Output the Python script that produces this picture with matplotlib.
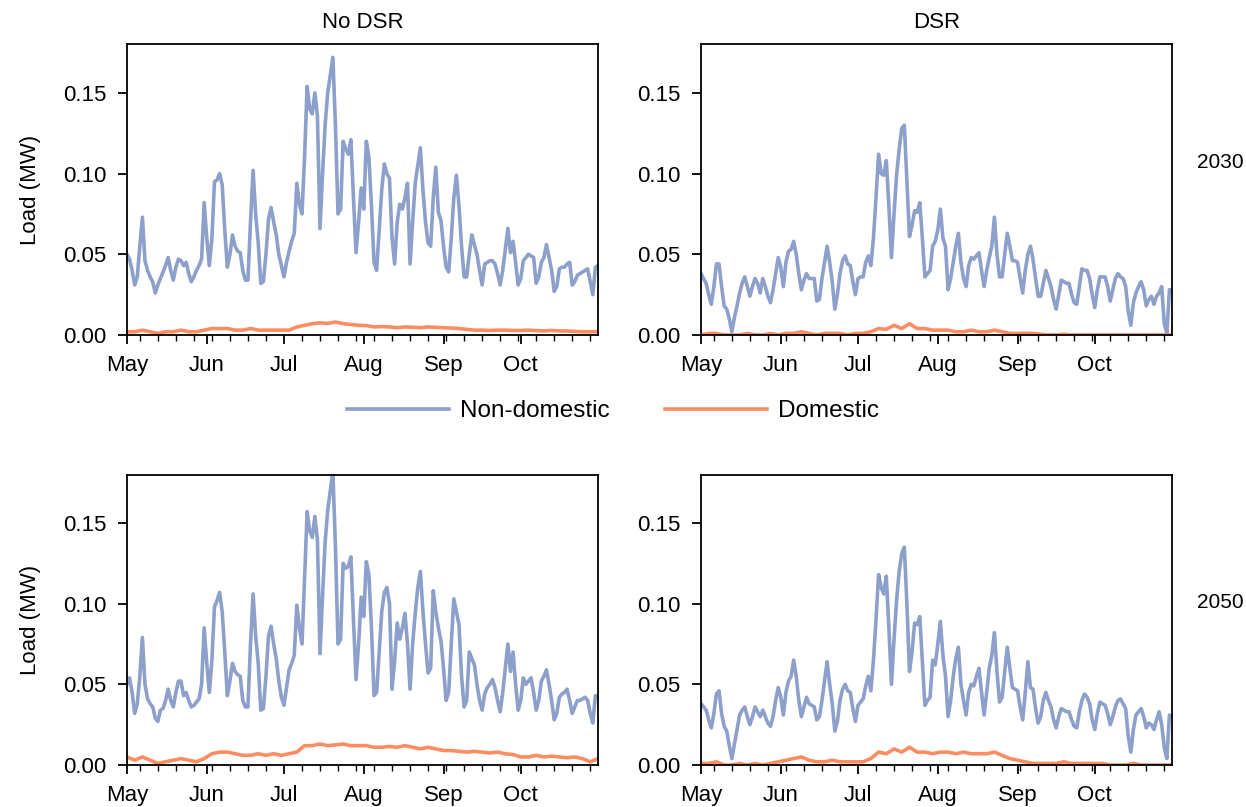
import numpy as np
import pandas as pd
import matplotlib
matplotlib.use('Agg')
import matplotlib.pyplot as plt
import matplotlib.dates as mdates

plt.rcParams['font.family'] = ['Liberation Sans', 'DejaVu Sans']

# daily non-domestic load (MW), 1 May - 31 Oct
nd_nodsr_2030 = [
    0.050, 0.047, 0.040, 0.031, 0.036, 0.055, 0.073, 0.046, 0.040, 0.036,
    0.033, 0.026, 0.031, 0.035, 0.039, 0.043, 0.048, 0.040, 0.034, 0.042,
    0.047, 0.046, 0.043, 0.045, 0.038, 0.033, 0.036, 0.040, 0.043, 0.047,
    0.082, 0.060, 0.043, 0.060, 0.095, 0.096, 0.100, 0.093, 0.065, 0.042,
    0.050, 0.062, 0.055, 0.052, 0.051, 0.040, 0.034, 0.034, 0.070, 0.102,
    0.075, 0.057, 0.032, 0.033, 0.050, 0.072, 0.079, 0.070, 0.062, 0.050,
    0.043, 0.036, 0.045, 0.052, 0.058, 0.063, 0.094, 0.081, 0.075, 0.110,
    0.154, 0.140, 0.137, 0.150, 0.136, 0.066, 0.100, 0.130, 0.150, 0.161,
    0.172, 0.130, 0.075, 0.078, 0.120, 0.115, 0.112, 0.121, 0.085, 0.051,
    0.070, 0.091, 0.078, 0.120, 0.110, 0.080, 0.045, 0.040, 0.065, 0.090,
    0.106, 0.100, 0.097, 0.060, 0.044, 0.070, 0.081, 0.078, 0.085, 0.094,
    0.044, 0.070, 0.094, 0.105, 0.116, 0.090, 0.070, 0.057, 0.055, 0.085,
    0.104, 0.076, 0.071, 0.055, 0.042, 0.039, 0.060, 0.085, 0.099, 0.080,
    0.055, 0.036, 0.036, 0.050, 0.062, 0.056, 0.050, 0.040, 0.031, 0.044,
    0.045, 0.046, 0.046, 0.044, 0.038, 0.031, 0.040, 0.053, 0.066, 0.051,
    0.058, 0.045, 0.031, 0.035, 0.046, 0.048, 0.050, 0.049, 0.048, 0.032,
    0.036, 0.045, 0.048, 0.056, 0.048, 0.040, 0.027, 0.030, 0.041, 0.042,
    0.042, 0.044, 0.045, 0.031, 0.033, 0.037, 0.038, 0.039, 0.040, 0.041,
    0.033, 0.025, 0.042, 0.043]

nd_dsr_2030 = [
    0.038, 0.035, 0.032, 0.025, 0.019, 0.030, 0.044, 0.044, 0.030, 0.018,
    0.016, 0.010, 0.002, 0.011, 0.018, 0.026, 0.032, 0.036, 0.030, 0.024,
    0.030, 0.035, 0.032, 0.026, 0.035, 0.030, 0.024, 0.020, 0.028, 0.038,
    0.048, 0.042, 0.030, 0.045, 0.052, 0.053, 0.058, 0.050, 0.038, 0.028,
    0.034, 0.038, 0.035, 0.035, 0.035, 0.021, 0.022, 0.035, 0.045, 0.055,
    0.045, 0.033, 0.016, 0.025, 0.038, 0.046, 0.049, 0.044, 0.043, 0.033,
    0.025, 0.035, 0.036, 0.036, 0.045, 0.049, 0.043, 0.060, 0.085, 0.112,
    0.100, 0.099, 0.108, 0.080, 0.048, 0.075, 0.099, 0.115, 0.128, 0.130,
    0.095, 0.061, 0.068, 0.077, 0.076, 0.082, 0.060, 0.036, 0.038, 0.040,
    0.055, 0.058, 0.065, 0.078, 0.060, 0.055, 0.028, 0.035, 0.045, 0.055,
    0.063, 0.045, 0.035, 0.030, 0.043, 0.048, 0.047, 0.049, 0.051, 0.040,
    0.030, 0.040, 0.048, 0.055, 0.073, 0.050, 0.036, 0.036, 0.050, 0.063,
    0.055, 0.046, 0.046, 0.045, 0.035, 0.026, 0.040, 0.050, 0.055, 0.047,
    0.035, 0.024, 0.024, 0.032, 0.040, 0.035, 0.030, 0.022, 0.016, 0.025,
    0.034, 0.033, 0.032, 0.032, 0.025, 0.020, 0.019, 0.030, 0.041, 0.040,
    0.040, 0.035, 0.025, 0.017, 0.028, 0.036, 0.036, 0.036, 0.030, 0.021,
    0.028, 0.035, 0.038, 0.036, 0.035, 0.030, 0.015, 0.006, 0.020, 0.026,
    0.030, 0.033, 0.028, 0.018, 0.022, 0.024, 0.019, 0.024, 0.026, 0.030,
    0.007, 0.001, 0.028, 0.028]

nd_nodsr_2050 = [
    0.050, 0.054, 0.045, 0.032, 0.038, 0.055, 0.079, 0.050, 0.041, 0.038,
    0.036, 0.029, 0.027, 0.034, 0.035, 0.040, 0.047, 0.040, 0.036, 0.045,
    0.052, 0.052, 0.043, 0.045, 0.040, 0.036, 0.037, 0.039, 0.041, 0.050,
    0.085, 0.063, 0.045, 0.065, 0.098, 0.102, 0.107, 0.095, 0.070, 0.043,
    0.052, 0.063, 0.058, 0.056, 0.055, 0.040, 0.036, 0.036, 0.075, 0.106,
    0.080, 0.063, 0.034, 0.035, 0.055, 0.080, 0.086, 0.075, 0.066, 0.052,
    0.042, 0.037, 0.048, 0.059, 0.063, 0.068, 0.099, 0.085, 0.075, 0.115,
    0.157, 0.145, 0.141, 0.154, 0.140, 0.069, 0.105, 0.138, 0.158, 0.170,
    0.182, 0.135, 0.075, 0.078, 0.125, 0.122, 0.123, 0.129, 0.090, 0.053,
    0.075, 0.104, 0.092, 0.126, 0.118, 0.085, 0.043, 0.045, 0.070, 0.095,
    0.107, 0.110, 0.100, 0.047, 0.065, 0.088, 0.078, 0.085, 0.094, 0.075,
    0.047, 0.075, 0.094, 0.110, 0.120, 0.095, 0.075, 0.057, 0.060, 0.108,
    0.095, 0.085, 0.077, 0.060, 0.040, 0.045, 0.075, 0.103, 0.095, 0.087,
    0.055, 0.036, 0.040, 0.070, 0.066, 0.062, 0.050, 0.040, 0.034, 0.044,
    0.048, 0.050, 0.053, 0.048, 0.040, 0.033, 0.045, 0.060, 0.075, 0.058,
    0.070, 0.050, 0.034, 0.040, 0.054, 0.050, 0.052, 0.054, 0.045, 0.034,
    0.040, 0.052, 0.055, 0.059, 0.050, 0.040, 0.028, 0.032, 0.042, 0.044,
    0.045, 0.047, 0.040, 0.032, 0.036, 0.040, 0.040, 0.041, 0.042, 0.040,
    0.032, 0.026, 0.043, 0.042]

nd_dsr_2050 = [
    0.038, 0.036, 0.034, 0.028, 0.023, 0.032, 0.044, 0.046, 0.032, 0.024,
    0.021, 0.012, 0.004, 0.013, 0.022, 0.031, 0.034, 0.036, 0.030, 0.025,
    0.030, 0.036, 0.033, 0.030, 0.034, 0.030, 0.026, 0.024, 0.030, 0.040,
    0.048, 0.042, 0.031, 0.045, 0.052, 0.055, 0.065, 0.055, 0.040, 0.030,
    0.036, 0.042, 0.038, 0.037, 0.036, 0.028, 0.030, 0.040, 0.052, 0.064,
    0.050, 0.038, 0.021, 0.027, 0.040, 0.047, 0.050, 0.046, 0.045, 0.035,
    0.027, 0.037, 0.039, 0.041, 0.049, 0.055, 0.046, 0.065, 0.090, 0.118,
    0.110, 0.106, 0.117, 0.085, 0.050, 0.078, 0.102, 0.120, 0.131, 0.135,
    0.100, 0.058, 0.070, 0.088, 0.087, 0.092, 0.065, 0.037, 0.040, 0.042,
    0.065, 0.062, 0.075, 0.089, 0.068, 0.055, 0.030, 0.040, 0.055, 0.066,
    0.073, 0.050, 0.040, 0.031, 0.045, 0.050, 0.049, 0.055, 0.060, 0.045,
    0.031, 0.045, 0.060, 0.068, 0.082, 0.058, 0.039, 0.042, 0.058, 0.073,
    0.060, 0.048, 0.047, 0.046, 0.036, 0.028, 0.045, 0.064, 0.048, 0.047,
    0.035, 0.026, 0.030, 0.040, 0.045, 0.040, 0.036, 0.028, 0.023, 0.030,
    0.035, 0.034, 0.033, 0.033, 0.028, 0.024, 0.023, 0.033, 0.040, 0.044,
    0.042, 0.038, 0.028, 0.022, 0.032, 0.039, 0.038, 0.037, 0.032, 0.025,
    0.030, 0.036, 0.040, 0.041, 0.038, 0.035, 0.018, 0.008, 0.022, 0.031,
    0.033, 0.035, 0.030, 0.023, 0.026, 0.025, 0.022, 0.028, 0.033, 0.025,
    0.011, 0.004, 0.031, 0.030]

# domestic load (MW), every 3rd day from 1 May
dom_nodsr_2030 = [
    0.002, 0.002, 0.003, 0.002, 0.001, 0.002, 0.002, 0.003, 0.002, 0.002, 0.003,
    0.004, 0.004, 0.004, 0.003, 0.003, 0.004, 0.003, 0.003, 0.003, 0.003,
    0.003, 0.005, 0.006, 0.007, 0.0075, 0.0072, 0.008, 0.007, 0.0065, 0.006,
    0.0058, 0.005, 0.0052, 0.005, 0.0045, 0.005, 0.0048, 0.0045, 0.005, 0.0047,
    0.0045, 0.0043, 0.004, 0.0035, 0.003, 0.003, 0.0028, 0.003, 0.003, 0.0028,
    0.0028, 0.003, 0.0027, 0.0025, 0.0028, 0.0025, 0.0025, 0.0022, 0.002, 0.002, 0.002]

dom_dsr_2030 = [
    0.000, 0.001, 0.001, 0.000, 0.000, 0.000, 0.001, 0.000, 0.000, 0.001, 0.000,
    0.001, 0.001, 0.002, 0.001, 0.000, 0.001, 0.001, 0.001, 0.000, 0.001,
    0.001, 0.002, 0.004, 0.0035, 0.006, 0.004, 0.007, 0.004, 0.004, 0.003,
    0.003, 0.003, 0.002, 0.002, 0.003, 0.002, 0.002, 0.003, 0.002, 0.001,
    0.001, 0.001, 0.001, 0.0005, 0.000, 0.000, 0.0005, 0.000, 0.000, 0.000,
    0.000, 0.000, 0.000, 0.000, 0.000, 0.000, 0.000, 0.000, 0.000, 0.000, 0.000]

dom_nodsr_2050 = [
    0.005, 0.003, 0.005, 0.003, 0.001, 0.002, 0.003, 0.004, 0.003, 0.002, 0.004,
    0.007, 0.008, 0.008, 0.007, 0.006, 0.006, 0.007, 0.006, 0.007, 0.006,
    0.007, 0.008, 0.012, 0.012, 0.013, 0.012, 0.0125, 0.013, 0.012, 0.012,
    0.012, 0.011, 0.011, 0.0115, 0.011, 0.012, 0.011, 0.010, 0.011, 0.010,
    0.009, 0.009, 0.0085, 0.008, 0.0085, 0.008, 0.0075, 0.008, 0.007, 0.0065,
    0.005, 0.005, 0.006, 0.005, 0.0055, 0.005, 0.0045, 0.005, 0.004, 0.002, 0.004]

dom_dsr_2050 = [
    0.001, 0.001, 0.002, 0.000, 0.000, 0.001, 0.000, 0.001, 0.000, 0.001, 0.002,
    0.003, 0.004, 0.005, 0.003, 0.002, 0.002, 0.003, 0.002, 0.002, 0.002,
    0.002, 0.004, 0.008, 0.007, 0.010, 0.008, 0.011, 0.008, 0.008, 0.007,
    0.008, 0.008, 0.007, 0.008, 0.007, 0.007, 0.007, 0.008, 0.006, 0.004,
    0.003, 0.002, 0.001, 0.001, 0.001, 0.001, 0.002, 0.001, 0.001, 0.001,
    0.001, 0.001, 0.000, 0.000, 0.000, 0.001, 0.000, 0.000, 0.000, 0.000, 0.000]

col_titles = ['No DSR', 'DSR']
row_labels = ['2030', '2050']
yticks = [0.00, 0.05, 0.10, 0.15]

blue = '#8da0cb'
orange = '#fc8d62'

panels = [[(nd_nodsr_2030, dom_nodsr_2030), (nd_dsr_2030, dom_dsr_2030)],
          [(nd_nodsr_2050, dom_nodsr_2050), (nd_dsr_2050, dom_dsr_2050)]]

fig = plt.figure(figsize=(12.46, 8.07), dpi=100)

lefts = [0.1019, 0.5626]
bottoms = [0.5849, 0.0520]
width = 0.378
height = 0.360

for r in range(2):
    for c in range(2):
        ax = fig.add_axes([lefts[c], bottoms[r], width, height])
        nd, dom = panels[r][c]
        d_nd = pd.date_range('2030-05-01', periods=len(nd), freq='D')
        d_dom = pd.date_range('2030-05-01', periods=len(dom), freq='3D')
        l1, = ax.plot(d_nd, nd, color=blue, lw=2.6, label='Non-domestic')
        l2, = ax.plot(d_dom, dom, color=orange, lw=2.6, label='Domestic')
        ax.set_xlim(pd.Timestamp('2030-05-01'), pd.Timestamp('2030-10-31'))
        ax.set_ylim(0, 0.18)
        ax.set_yticks(yticks)
        ax.set_yticklabels(['%.2f' % t for t in yticks])
        ax.xaxis.set_major_locator(mdates.MonthLocator())
        ax.xaxis.set_major_formatter(mdates.DateFormatter('%b'))
        ax.xaxis.set_minor_locator(mdates.WeekdayLocator(byweekday=mdates.MO))
        ax.tick_params(axis='both', which='major', labelsize=16, length=6.5,
                       width=1.3, pad=8)
        ax.tick_params(axis='x', which='minor', length=4, width=1.0)
        for s in ax.spines.values():
            s.set_linewidth(1.3)
        if c == 0:
            ax.set_ylabel('Load (MW)', fontsize=16, labelpad=16)
        if r == 0:
            ax.set_title(col_titles[c], fontsize=16, pad=12)

fig.text(0.979, 1 - 163 / 807, row_labels[0], fontsize=15, ha='center', va='center')
fig.text(0.979, 1 - 603 / 807, row_labels[1], fontsize=15, ha='center', va='center')

fig.legend([l1, l2], ['Non-domestic', 'Domestic'], loc='center', ncol=2,
           bbox_to_anchor=(0.492, 1 - 411 / 807), frameon=False, fontsize=17.5,
           handlelength=4.2, columnspacing=2.3, handletextpad=0.45)

fig.savefig('out.png', dpi=100)
